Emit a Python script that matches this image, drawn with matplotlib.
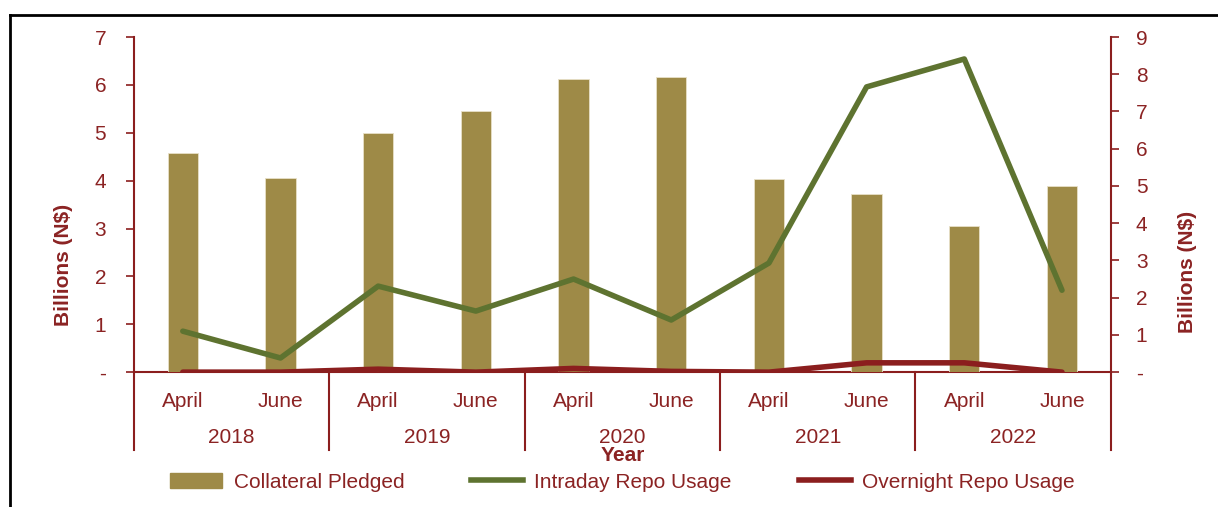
import numpy as np
import matplotlib.pyplot as plt
from matplotlib.lines import Line2D
from matplotlib.patches import Patch
from matplotlib.ticker import FuncFormatter

plt.rcParams['font.family'] = ['Liberation Sans', 'DejaVu Sans']

years = ['2018', '2019', '2020', '2021', '2022']
months = ['April', 'June'] * 5
collateral = [4.57, 4.05, 4.99, 5.45, 6.12, 6.16, 4.03, 3.72, 3.05, 3.88]
intraday = [1.10, 0.38, 2.31, 1.64, 2.50, 1.40, 2.93, 7.66, 8.41, 2.20]
overnight = [0.00, 0.00, 0.08, 0.00, 0.10, 0.02, 0.00, 0.25, 0.25, 0.00]

txt = '#8B2323'
axc = '#8B1E1E'
bar_c = '#9E8A47'
green = '#5E7330'
red = '#8B1E1E'
fs = 15

fig = plt.figure(figsize=(12.18, 5.07), dpi=100)
ax = fig.add_axes([0.110, 0.266, 0.802, 0.661])
ax2 = ax.twinx()

x = np.arange(len(months))
ax.bar(x, collateral, width=0.31, color=bar_c, edgecolor='#E8E0C8', linewidth=0.6, zorder=2)
ax2.plot(x, intraday, color=green, lw=4, solid_capstyle='round', zorder=3)
ax2.plot(x, overnight, color=red, lw=4, solid_capstyle='round', zorder=3)

ax.set_xlim(-0.5, 9.5)
ax.set_ylim(0, 7)
ax2.set_ylim(0, 9)
ax.set_yticks(range(8))
ax2.set_yticks(range(10))
dash = FuncFormatter(lambda v, p: '-' if v == 0 else f'{int(v)}')
ax.yaxis.set_major_formatter(dash)
ax2.yaxis.set_major_formatter(dash)

for a in (ax, ax2):
    for s in ('top', 'bottom', 'left', 'right'):
        a.spines[s].set_visible(False)
    a.tick_params(axis='y', colors=axc, labelcolor=txt, labelsize=fs, length=6, width=1.2)
ax.tick_params(axis='y', pad=14)
ax2.tick_params(axis='y', pad=12)

ax.set_xticks(x)
ax.set_xticklabels(months)
ax.tick_params(axis='x', length=0, labelsize=fs, labelcolor=txt, pad=14)

# spines and group separators reaching down into the category area
trans = ax.get_xaxis_transform()
low = -0.233
for xs in [-0.5, 1.5, 3.5, 5.5, 7.5, 9.5]:
    ax.plot([xs, xs], [low, 1 if xs in (-0.5, 9.5) else 0], transform=trans,
            color=axc, lw=1.5, clip_on=False, zorder=1)
ax.plot([-0.5, 9.5], [0, 0], transform=trans, color=axc, lw=1.5, clip_on=False, zorder=1)

for i, yr in enumerate(years):
    ax.text(2 * i + 0.5, -0.196, yr, transform=trans, ha='center', va='center',
            fontsize=fs, color=txt)
ax.text(0.5, -0.25, 'Year', transform=ax.transAxes, ha='center', va='center',
        fontsize=fs, fontweight='bold', color=txt)

ax.set_ylabel('Billions (N$)', fontsize=fs, fontweight='bold', color=txt)
ax2.set_ylabel('Billions (N$)', fontsize=fs, fontweight='bold', color=txt)
ax.yaxis.set_label_coords(-0.062, 0.32)
ax2.yaxis.set_label_coords(1.069, 0.30)

handles = [Patch(color=bar_c), Line2D([], [], color=green, lw=4), Line2D([], [], color=red, lw=4)]
labels = ['Collateral Pledged', 'Intraday Repo Usage', 'Overnight Repo Usage']
leg = fig.legend(handles, labels, loc='center', bbox_to_anchor=(0.511, 0.049), ncol=3,
                 frameon=False, fontsize=fs, handlelength=2.5, handleheight=0.7,
                 columnspacing=3.2, handletextpad=0.55)
for t in leg.get_texts():
    t.set_color(txt)

# outer frame edge
fig.add_artist(Line2D([10 / 1218, 10 / 1218], [0, 1 - 15 / 507], color='black', lw=2))
fig.add_artist(Line2D([10 / 1218, 1], [1 - 15 / 507, 1 - 15 / 507], color='black', lw=2))

fig.savefig('out.png', dpi=100)
